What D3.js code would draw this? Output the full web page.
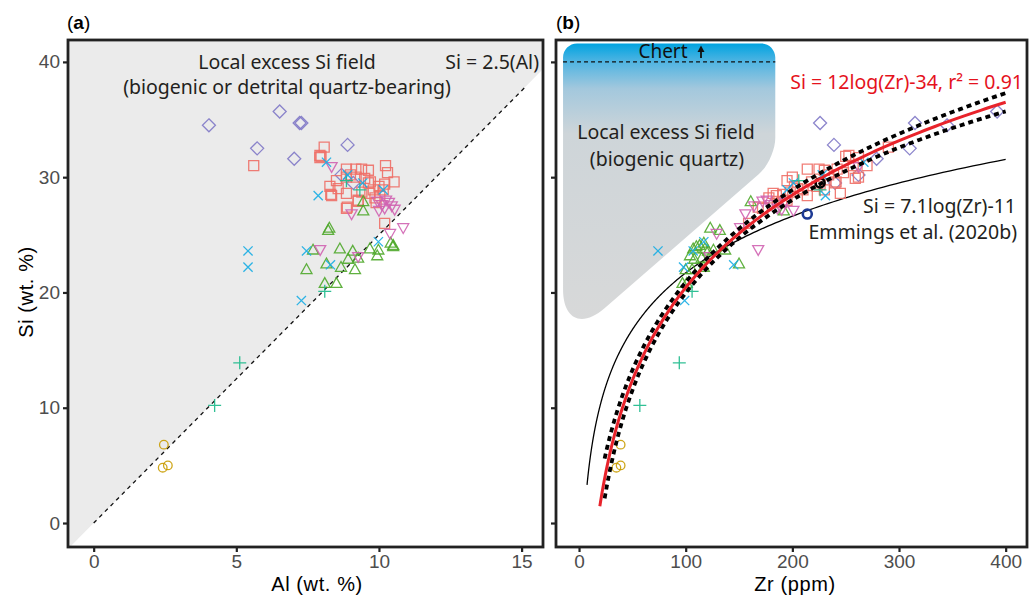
<!DOCTYPE html>
<html><head><meta charset="utf-8">
<script src="https://cdn.jsdelivr.net/npm/d3@7"></script>
<style>
html,body{margin:0;padding:0;background:#fff;}
svg{display:block;}
</style></head>
<body>
<svg id="chart" width="1030" height="598"></svg>
<script>
// ---------------- DATA ----------------
// Each series: Si (wt.%), Al (wt.%), Zr (ppm) per sample
const goldSi = [6.8, 4.8, 5.0];
const goldAl = [2.46, 2.42, 2.60];
const goldZr = [39, 35, 39];

const tealSi = [13.9, 10.2, 20.1, 28.9, 29.7];
const tealAl = [5.12, 4.24, 8.10, 9.33, 8.86];
const tealZr = [94, 57, 106, 226, 206];

const greenSi = [25.4, 25.6, 23.7, 22.0, 23.8, 23.6, 22.9, 23.0, 22.5, 22.2, 22.0, 20.8, 20.8, 23.8, 23.7, 23.2, 24.0, 24.3, 27.9, 27.1, 24.1];
const greenAl = [8.22, 8.26, 7.69, 7.46, 8.63, 9.08, 8.92, 9.27, 8.16, 8.67, 9.16, 8.10, 8.51, 9.68, 9.98, 9.94, 10.50, 10.41, 9.45, 9.45, 10.50];
const greenZr = [132, 123, 126, 100, 107, 121, 108, 115, 150, 117, 106, 101, 97, 118, 137, 104, 110, 117, 161, 192, 113];

const blueSi = [31.3, 30.2, 29.5, 28.9, 28.4, 23.6, 22.2, 23.6, 24.4, 22.4, 19.3];
const blueAl = [8.16, 8.90, 9.43, 10.15, 7.87, 5.41, 5.41, 7.46, 9.98, 8.30, 7.28];
const blueZr = [267, 228, 201, 195, 231, 74, 98, 107, 117, 145, 99];

const pinkSi = [30.9, 26.8, 23.7, 23.1, 25.1, 25.6, 27.9, 27.6, 27.3, 27.8, 27.1, 27.5, 28.0, 27.2];
const pinkAl = [8.34, 9.04, 7.94, 9.27, 10.39, 10.85, 9.95, 10.10, 10.20, 10.35, 10.00, 10.45, 10.25, 10.55];
const pinkZr = [262, 156, 168, 122, 129, 151, 172, 180, 186, 193, 201, 164, 176, 190];

const salmonSi = [32.6, 31.9, 31.7, 31.8, 31.0, 31.0, 29.6, 26.0, 27.4, 29.2, 28.4, 28.5, 29.0, 28.6, 27.9, 30.7, 30.7, 30.7, 30.6, 30.0, 30.0, 29.7, 29.5, 28.9, 28.6, 28.4, 28.9, 28.2, 28.0, 27.3, 29.9, 29.6, 29.2, 30.4, 28.7, 27.8, 30.2, 29.4];
const salmonAl = [8.08, 7.93, 7.93, 7.97, 5.61, 10.23, 10.53, 10.20, 8.89, 8.28, 8.34, 8.31, 8.57, 8.86, 9.27, 8.86, 9.19, 9.39, 9.63, 8.86, 9.20, 8.51, 9.63, 9.80, 9.68, 10.03, 10.15, 9.86, 9.27, 8.86, 9.50, 9.70, 10.00, 10.30, 9.40, 9.90, 9.00, 10.20];
const salmonZr = [290, 253, 262, 250, 270, 257, 241, 159, 168, 223, 214, 191, 205, 182, 186, 242, 225, 214, 230, 262, 200, 195, 240, 210, 245, 185, 230, 178, 195, 172, 259, 218, 202, 248, 198, 190, 234, 226];

const purpleSi = [34.5, 35.7, 32.5, 31.6, 34.7, 34.7, 32.8, 30.2, 29.5];
const purpleAl = [4.04, 6.52, 5.73, 7.03, 7.22, 7.28, 8.90, 8.69, 9.10];
const purpleZr = [345, 392, 310, 279, 315, 226, 239, 262, 240];

// Reference samples shown only in panel (b)
const blackPtZr = [226], blackPtSi = [29.5];
const navyPtZr = [214], navyPtSi = [26.8];

// Axis ticks
const alTicks = [0, 5, 10, 15];
const zrTicks = [0, 100, 200, 300, 400];
const siTicks = [0, 10, 20, 30, 40];

// Line / curve parameters (from the annotations)
const siAlRatio = 2.5;                 // Si = 2.5(Al)
const fitA = 11.6, fitB = -33.0;       // red regression (plotted)
const fitZrRange = [19.5, 400];
const bandZrRange = [24, 400];
const bandBase = 0.4, bandCurv = 0.4, bandCentre = 5.0; // confidence band half width in Si
const emA = 7.1, emB = -11;            // Emmings et al. (2020b)
const emZrRange = [7.5, 400];
const chertSi = 40;
// Local excess Si field outline (Zr, Si) in panel b
const fieldZr = [-15, 184, 184, -15];
const fieldSi = [41.6, 41.6, 31.5, 15.5];
const fieldRadius = [14, 14, 22, 55];

// ---------------- LAYOUT ----------------
const svg = d3.select("#chart");
const A = {l: 68, r: 543, t: 40, b: 547};
const B = {l: 556, r: 1027, t: 40, b: 547};
const xA = d3.scaleLinear().domain([-0.9, 15.75]).range([A.l, A.r]);
const xB = d3.scaleLinear().domain([-21.6, 420]).range([B.l, B.r]);
const yA = d3.scaleLinear().domain([-2.08, 41.9]).range([A.b, A.t]);
const yB = yA.copy().range([B.b, B.t]);

const tickFont = "'Liberation Sans', Arial, Helvetica, sans-serif";
const annFont = "'Noto Sans', 'Open Sans', sans-serif";
const annSize = 19.5;

const defs = svg.append("defs");
defs.append("clipPath").attr("id", "clipA").append("rect")
  .attr("x", A.l).attr("y", A.t).attr("width", A.r - A.l).attr("height", A.b - A.t);
defs.append("clipPath").attr("id", "clipB").append("rect")
  .attr("x", B.l).attr("y", B.t).attr("width", B.r - B.l).attr("height", B.b - B.t);
const grad = defs.append("linearGradient").attr("id", "fieldGrad")
  .attr("gradientUnits", "userSpaceOnUse")
  .attr("x1", 0).attr("x2", 0).attr("y1", yB(41.6)).attr("y2", yB(15.5));
[[0, "#00a3e0"], [0.06, "#4fb4e2"], [0.15, "#a3c8dd"], [0.3, "#ced5d9"], [1, "#d9d9d9"]]
  .forEach(([o, c]) => grad.append("stop").attr("offset", o).attr("stop-color", c));

// series styles
const series = [
  {key: "purple", color: "#8078c6", shape: "diamond", si: purpleSi, al: purpleAl, zr: purpleZr},
  {key: "salmon", color: "#ee6f67", shape: "square", si: salmonSi, al: salmonAl, zr: salmonZr},
  {key: "green", color: "#4fa82b", shape: "triUp", si: greenSi, al: greenAl, zr: greenZr},
  {key: "pink", color: "#d063b1", shape: "triDown", si: pinkSi, al: pinkAl, zr: pinkZr},
  {key: "gold", color: "#c99c00", shape: "circle", si: goldSi, al: goldAl, zr: goldZr},
  {key: "teal", color: "#1ab98a", shape: "plus", si: tealSi, al: tealAl, zr: tealZr},
  {key: "blue", color: "#17ade4", shape: "cross", si: blueSi, al: blueAl, zr: blueZr},
];
const shapePath = {
  square: "M-5,-5H5V5H-5Z",
  diamond: "M0,-6.5L6.5,0L0,6.5L-6.5,0Z",
  triUp: "M0,-5.6L5.5,4.2H-5.5Z",
  triDown: "M0,5.6L5.5,-4.2H-5.5Z",
  circle: "M4.3,0A4.3,4.3 0 1,1 -4.3,0A4.3,4.3 0 1,1 4.3,0Z",
  plus: "M-6.5,0H6.5M0,-6.5V6.5",
  cross: "M-4.6,-4.6L4.6,4.6M-4.6,4.6L4.6,-4.6",
};

function annText(g, x, y, anchor, txt, fill) {
  return g.append("text").attr("x", x).attr("y", y).attr("text-anchor", anchor)
    .attr("font-family", annFont).attr("font-size", annSize).attr("fill", fill || "#231f20")
    .text(txt);
}

// ---------------- PANEL A ----------------
const gA = svg.append("g");
const pA = gA.append("g").attr("clip-path", "url(#clipA)");
// grey field above Si = 2.5 Al
const x0 = xA.domain()[0], x1 = xA.domain()[1];
const yTop = yA.domain()[1];
const fieldA = [[x0, yTop], [x1, yTop], [x1, siAlRatio * x1], [x0, siAlRatio * x0]];
pA.append("path")
  .attr("d", d3.line().x(d => xA(d[0])).y(d => yA(d[1]))(fieldA) + "Z")
  .attr("fill", "#ebebeb");
pA.append("line")
  .attr("x1", xA(0)).attr("y1", yA(0))
  .attr("x2", xA(15.1)).attr("y2", yA(siAlRatio * 15.1))
  .attr("stroke", "#111").attr("stroke-width", 1.3).attr("stroke-dasharray", "4,4");

function drawPoints(g, xs, xKey) {
  series.forEach(s => {
    const pts = s.si.map((v, i) => ({si: v, x: s[xKey][i]}));
    g.append("g").selectAll("path").data(pts).join("path")
      .attr("d", shapePath[s.shape])
      .attr("transform", d => `translate(${xs(d.x)},${yA(d.si)})`)
      .attr("fill", "none").attr("stroke", s.color).attr("stroke-width", 1.3)
      .attr("stroke-opacity", 0.9);
  });
}
drawPoints(pA, xA, "al");

annText(gA, 287, 69, "middle", "Local excess Si field");
annText(gA, 287, 94, "middle", "(biogenic or detrital quartz-bearing)");
annText(gA, 539, 69, "end", "Si = 2.5(Al)");

// ---------------- PANEL B ----------------
const gB = svg.append("g");
const pB = gB.append("g").attr("clip-path", "url(#clipB)");

function roundedPoly(pts, radii) {
  let d = "";
  const n = pts.length;
  for (let i = 0; i < n; i++) {
    const p0 = pts[(i - 1 + n) % n], p1 = pts[i], p2 = pts[(i + 1) % n];
    const r = radii[i];
    const v1 = [p0[0] - p1[0], p0[1] - p1[1]], l1 = Math.hypot(v1[0], v1[1]);
    const v2 = [p2[0] - p1[0], p2[1] - p1[1]], l2 = Math.hypot(v2[0], v2[1]);
    const a = [p1[0] + v1[0] / l1 * r, p1[1] + v1[1] / l1 * r];
    const b = [p1[0] + v2[0] / l2 * r, p1[1] + v2[1] / l2 * r];
    const k = 0.55;
    const c1 = [a[0] + (p1[0] - a[0]) * k, a[1] + (p1[1] - a[1]) * k];
    const c2 = [b[0] + (p1[0] - b[0]) * k, b[1] + (p1[1] - b[1]) * k];
    d += (i === 0 ? "M" : "L") + a[0] + "," + a[1] +
      "C" + c1[0] + "," + c1[1] + " " + c2[0] + "," + c2[1] + " " + b[0] + "," + b[1];
  }
  return d + "Z";
}
const fieldPts = fieldZr.map((z, i) => [xB(z), yB(fieldSi[i])]);
pB.append("path").attr("d", roundedPoly(fieldPts, fieldRadius)).attr("fill", "url(#fieldGrad)");
pB.append("line")
  .attr("x1", xB(-15)).attr("x2", xB(184)).attr("y1", yB(chertSi)).attr("y2", yB(chertSi))
  .attr("stroke", "#111").attr("stroke-width", 1.2).attr("stroke-dasharray", "4,3");

gB.append("text").attr("x", 663).attr("y", 58).attr("text-anchor", "middle")
  .attr("font-family", annFont).attr("font-size", 19).attr("fill", "#111").text("Chert");
gB.append("path").attr("d", "M701,58V50").attr("stroke", "#111").attr("stroke-width", 1.8);
gB.append("path").attr("d", "M697.5,52L701,45.5L704.5,52Z").attr("fill", "#111");

annText(gB, 666, 139, "middle", "Local excess Si field");
annText(gB, 667, 166, "middle", "(biogenic quartz)");

const lnCurve = (a, b, range, off) => {
  const zs = d3.range(0, 201).map(i => range[0] * Math.pow(range[1] / range[0], i / 200));
  return zs.map(z => [z, a * Math.log(z) + b + (off ? off(z) : 0)]);
};
const lineB = d3.line().x(d => xB(d[0])).y(d => yB(d[1]));
// Emmings curve
pB.append("path").attr("d", lineB(lnCurve(emA, emB, emZrRange)))
  .attr("fill", "none").attr("stroke", "#000").attr("stroke-width", 1.3);

drawPoints(pB, xB, "zr");
pB.append("g").selectAll("circle").data(blackPtZr).join("circle")
  .attr("cx", d => xB(d)).attr("cy", (d, i) => yB(blackPtSi[i])).attr("r", 4.5)
  .attr("fill", "none").attr("stroke", "#000").attr("stroke-width", 2.6);
pB.append("g").selectAll("circle").data(navyPtZr).join("circle")
  .attr("cx", d => xB(d)).attr("cy", (d, i) => yB(navyPtSi[i])).attr("r", 4.5)
  .attr("fill", "none").attr("stroke", "#1d3a94").attr("stroke-width", 2.6);

// confidence bands
const band = z => bandBase + bandCurv * Math.pow(Math.log(z) - bandCentre, 2);
[1, -1].forEach(sg => {
  pB.append("path").attr("d", lineB(lnCurve(fitA, fitB, bandZrRange, z => sg * band(z))))
    .attr("fill", "none").attr("stroke", "#000").attr("stroke-width", 3.8)
    .attr("stroke-dasharray", "5,4");
});
pB.append("path").attr("d", lineB(lnCurve(fitA, fitB, fitZrRange)))
  .attr("fill", "none").attr("stroke", "#e8232b").attr("stroke-width", 3);

annText(gB, 1023, 89, "end", "Si = 12log(Zr)-34, r² = 0.91", "#e5121c");
annText(gB, 1016, 213, "end", "Si = 7.1log(Zr)-11");
annText(gB, 1017, 239, "end", "Emmings et al. (2020b)");

// ---------------- AXES & FRAMES ----------------
function styleAxis(g) {
  g.select(".domain").remove();
  g.selectAll(".tick line").attr("stroke", "#222").attr("stroke-width", 2.2);
  g.selectAll(".tick text").attr("fill", "#4d4d4d").attr("font-family", tickFont).attr("font-size", 19);
}
svg.append("g").attr("transform", `translate(0,${A.b})`)
  .call(d3.axisBottom(xA).tickValues(alTicks).tickSize(5).tickPadding(3)).call(styleAxis);
svg.append("g").attr("transform", `translate(${A.l},0)`)
  .call(d3.axisLeft(yA).tickValues(siTicks).tickSize(5).tickPadding(3)).call(styleAxis);
svg.append("g").attr("transform", `translate(0,${B.b})`)
  .call(d3.axisBottom(xB).tickValues(zrTicks).tickSize(5).tickPadding(3)).call(styleAxis);
svg.append("g").attr("transform", `translate(${B.l},0)`)
  .call(d3.axisLeft(yB).tickValues(siTicks).tickSize(5).tickFormat("")).call(styleAxis);

[A, B].forEach(p => svg.append("rect").attr("x", p.l).attr("y", p.t)
  .attr("width", p.r - p.l).attr("height", p.b - p.t)
  .attr("fill", "none").attr("stroke", "#222").attr("stroke-width", 2.8));

const titleAttrs = t => t.attr("font-family", tickFont).attr("font-size", 20)
  .attr("letter-spacing", 0.6).attr("fill", "#000").attr("text-anchor", "middle");
svg.append("text").attr("x", 317).attr("y", 591).call(titleAttrs).text("Al (wt. %)");
svg.append("text").attr("x", 795).attr("y", 591).call(titleAttrs).text("Zr (ppm)");
svg.append("text").attr("transform", "translate(33,292) rotate(-90)").call(titleAttrs).text("Si (wt. %)");

const lab = (x, ch) => {
  const t = svg.append("text").attr("x", x).attr("y", 29).attr("font-family", tickFont)
    .attr("font-size", 19).attr("fill", "#000");
  t.append("tspan").text("(");
  t.append("tspan").attr("font-weight", "bold").text(ch);
  t.append("tspan").text(")");
};
lab(67, "a");
lab(556, "b");
</script>
</body></html>
